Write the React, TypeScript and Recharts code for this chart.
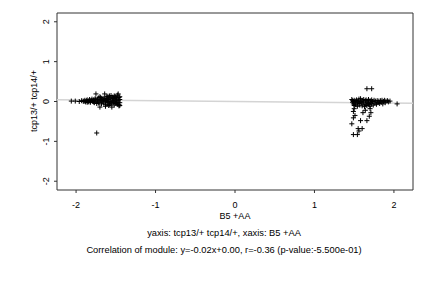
import React from "react";
import { ScatterChart, Scatter, XAxis, YAxis, ReferenceArea, ReferenceLine } from "recharts";

const xTicks = [-2, -1, 0, 1, 2];
const yTicks = [-2, -1, 0, 1, 2];
const xDomain = [-2.24, 2.24];
const yDomain = [-2.22, 2.22];

const regSlope = -0.02;
const regIntercept = 0.0;

const leftX = [-2.06,-2.01,-1.96,-1.93,-1.91,-1.89,-1.88,-1.86,-1.85,-1.84,-1.83,-1.82,-1.81,-1.80,-1.79,-1.78,-1.77,-1.76,-1.75,-1.75,-1.74,-1.73,-1.72,-1.71,-1.70,-1.70,-1.69,-1.68,-1.67,-1.66,-1.65,-1.64,-1.64,-1.63,-1.62,-1.62,-1.61,-1.60,-1.59,-1.59,-1.58,-1.57,-1.56,-1.56,-1.55,-1.55,-1.54,-1.53,-1.52,-1.52,-1.51,-1.50,-1.50,-1.49,-1.48,-1.48,-1.47,-1.47,-1.46,-1.46,-1.45,-1.45,-1.74,-1.90,-1.87,-1.84,-1.80,-1.78,-1.73,-1.69,-1.66,-1.63,-1.60,-1.58,-1.54,-1.51,-1.49,-1.47,-1.53,-1.57,-1.61,-1.65,-1.68,-1.72,-1.76,-1.82,-1.86,-1.70,-1.60,-1.52,-1.50,-1.46,-1.63,-1.58,-1.55,-1.49,-1.45,-1.45];
const leftY = [0.01,0.01,0.00,0.02,0.01,0.03,-0.01,0.04,0.00,0.02,0.05,-0.02,0.03,0.06,0.00,0.04,-0.03,0.07,0.19,0.02,-0.05,0.05,0.09,-0.02,-0.14,0.04,0.10,-0.06,0.01,0.08,-0.04,0.19,0.06,-0.08,0.12,0.02,-0.03,0.09,-0.10,0.05,0.14,0.00,0.15,-0.06,-0.14,0.07,0.11,-0.02,0.04,-0.09,0.13,0.01,-0.05,0.08,0.16,-0.07,0.19,0.03,-0.11,0.10,0.05,-0.03,-0.79,0.00,0.02,-0.01,0.02,-0.01,0.01,0.03,-0.01,0.03,0.00,-0.03,0.02,-0.01,0.04,-0.02,0.08,0.09,0.07,0.05,0.06,-0.04,0.05,0.01,-0.02,0.12,0.13,0.14,0.10,-0.08,-0.12,-0.07,-0.04,-0.04,0.12,-0.10];

const rightX = [1.47,1.48,1.48,1.49,1.49,1.50,1.50,1.51,1.52,1.52,1.53,1.54,1.54,1.55,1.56,1.56,1.57,1.58,1.58,1.59,1.60,1.60,1.61,1.62,1.62,1.63,1.64,1.64,1.65,1.66,1.66,1.67,1.68,1.68,1.69,1.70,1.70,1.71,1.72,1.72,1.73,1.74,1.75,1.76,1.77,1.78,1.79,1.80,1.81,1.82,1.83,1.84,1.85,1.86,1.87,1.88,1.89,1.90,1.92,1.93,1.95,2.04,1.66,1.72,1.50,1.51,1.49,1.61,1.71,1.47,1.58,1.66,1.55,1.60,1.49,1.54,1.56,1.69,1.64,1.70,1.49];
const rightY = [0.05,-0.02,0.02,-0.06,0.00,0.03,-0.10,-0.04,0.01,-0.08,0.04,-0.02,-0.12,0.02,-0.05,0.06,-0.09,0.00,0.07,-0.03,-0.11,0.03,-0.06,0.05,-0.01,-0.13,0.02,-0.07,0.04,-0.03,-0.10,0.01,-0.05,0.05,-0.08,0.02,-0.12,-0.02,0.04,-0.06,0.00,-0.09,0.03,-0.04,0.01,-0.07,0.02,-0.03,0.01,-0.05,0.02,-0.02,0.03,-0.06,0.00,0.03,-0.03,0.01,0.02,-0.01,0.01,-0.06,0.32,0.32,-0.18,-0.35,-0.41,-0.28,-0.28,-0.56,-0.48,-0.48,-0.68,-0.68,-0.83,-0.83,-0.74,-0.37,-0.22,-0.18,-0.25];

const points = [
  ...leftX.map((x, i) => ({ x, y: leftY[i] })),
  ...rightX.map((x, i) => ({ x, y: rightY[i] })),
];

const FONT = "'Liberation Sans', Arial, Helvetica, sans-serif";

const Plus = (props: any) => {
  const { cx, cy } = props;
  if (cx == null || cy == null) return null;
  const s = 2.5;
  return (
    <path
      d={`M${cx - s},${cy}H${cx + s}M${cx},${cy - s}V${cy + s}`}
      stroke="#000"
      strokeWidth={1}
      fill="none"
    />
  );
};

const YTick = (props: any) => {
  const { y, payload } = props;
  const x = 46;
  return (
    <text
      x={x}
      y={y}
      transform={`rotate(-90, ${x}, ${y})`}
      textAnchor="middle"
      dominantBaseline="central"
      fontSize={9}
      fontFamily={FONT}
      fill="#000"
    >
      {payload.value}
    </text>
  );
};

const XTick = (props: any) => {
  const { x, payload } = props;
  return (
    <text x={x} y={205} textAnchor="middle" dominantBaseline="central" fontSize={9} fontFamily={FONT} fill="#000">
      {payload.value}
    </text>
  );
};

export default function App() {
  const regStart = { x: xDomain[0], y: regIntercept + regSlope * xDomain[0] };
  const regEnd = { x: xDomain[1], y: regIntercept + regSlope * xDomain[1] };
  const captionStyle: React.CSSProperties = {
    position: "absolute",
    left: 0,
    width: 448,
    textAlign: "center",
    fontFamily: FONT,
    fontSize: 9.3,
    lineHeight: "10px",
    color: "#000",
    whiteSpace: "nowrap",
  };
  return (
    <div style={{ position: "absolute", left: 0, top: 0, width: 432, height: 288, background: "#fff" }}>
      <ScatterChart width={432} height={288} margin={{ top: 13, right: 19, left: 0, bottom: 0 }}>
        <XAxis
          type="number"
          dataKey="x"
          domain={xDomain}
          ticks={xTicks}
          height={98}
          axisLine={false}
          tickSize={3}
          tickLine={{ stroke: "#333" }}
          tick={<XTick />}
          allowDataOverflow
        />
        <YAxis
          type="number"
          dataKey="y"
          domain={yDomain}
          ticks={yTicks}
          width={57}
          axisLine={false}
          tickSize={3}
          tickLine={{ stroke: "#333" }}
          tick={<YTick />}
          allowDataOverflow
          label={{
            content: () => (
              <text
                x={34}
                y={101}
                transform="rotate(-90, 34, 101)"
                textAnchor="middle"
                dominantBaseline="central"
                fontSize={9}
                fontFamily={FONT}
                fill="#000"
              >
                tcp13/+ tcp14/+
              </text>
            ),
          }}
        />
        <ReferenceArea
          x1={xDomain[0]}
          x2={xDomain[1]}
          y1={yDomain[0]}
          y2={yDomain[1]}
          fill="none"
          stroke="#333"
          strokeWidth={1}
          ifOverflow="extendDomain"
        />
        <ReferenceLine segment={[regStart, regEnd]} stroke="#d4d4d4" strokeWidth={1.5} />
        <Scatter data={points} shape={<Plus />} isAnimationActive={false} />
      </ScatterChart>
      <div style={{ ...captionStyle, width: 470, fontSize: 9, top: 211 }}>B5 +AA</div>
      <div style={{ ...captionStyle, top: 228 }}>yaxis: tcp13/+ tcp14/+, xaxis: B5 +AA</div>
      <div style={{ ...captionStyle, top: 245 }}>Correlation of module: y=-0.02x+0.00, r=-0.36 (p-value:-5.500e-01)</div>
    </div>
  );
}
